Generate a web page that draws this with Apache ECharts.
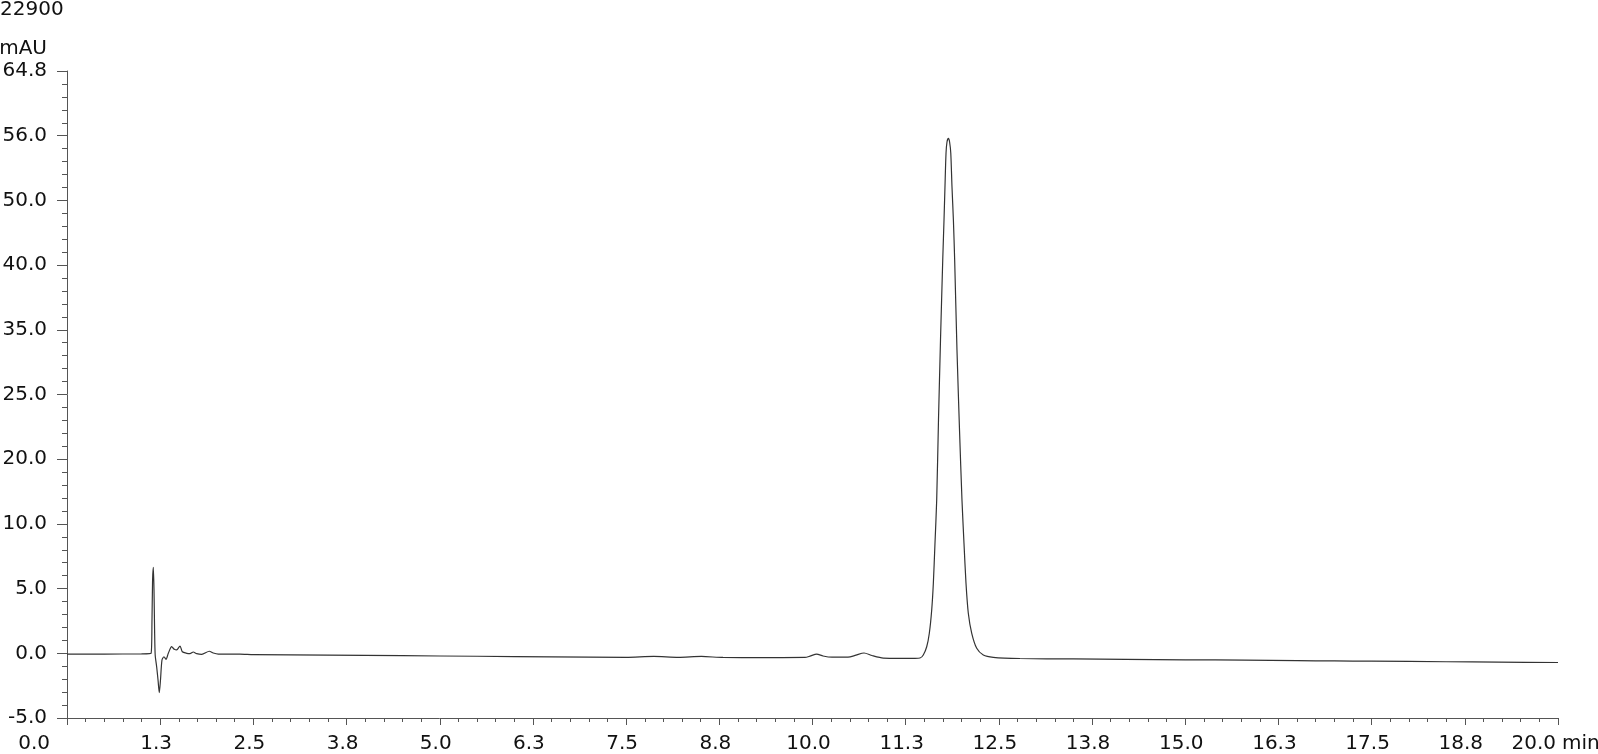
<!DOCTYPE html>
<html>
<head>
<meta charset="utf-8">
<script src="https://cdn.jsdelivr.net/npm/echarts@6/dist/echarts.min.js"></script>
<style>
html,body{margin:0;padding:0;background:#fff;}
#chart{width:1598px;height:754px;}
</style>
</head>
<body>
<div id="chart"></div>
<script>
const titleText = '22900';
const yUnit = 'mAU';
const xUnit = 'min';
const xLabels = ['0.0','1.3','2.5','3.8','5.0','6.3','7.5','8.8','10.0','11.3','12.5','13.8','15.0','16.3','17.5','18.8','20.0'];
const yLabels = ['-5.0','0.0','5.0','10.0','20.0','25.0','35.0','40.0','50.0','56.0','64.8'];

const timeMin = [
  0.00, 0.50, 1.00, 1.127, 1.140, 1.148, 1.158, 1.167, 1.175, 1.183, 1.203, 1.221, 1.238, 1.254,
  1.274, 1.301, 1.328, 1.359, 1.404, 1.439, 1.471, 1.516, 1.547, 1.606, 1.650, 1.694, 1.740,
  1.807, 1.909, 1.962, 2.030, 2.32, 2.50, 3.50, 4.50, 5.50, 6.50, 7.50, 7.87, 8.20, 8.51, 8.80,
  9.30, 9.899, 9.966, 10.056, 10.141, 10.262, 10.476, 10.583, 10.691, 10.798, 10.950, 11.174,
  11.375, 11.442, 11.486, 11.532, 11.567, 11.599, 11.621, 11.643, 11.666, 11.690, 11.717, 11.747,
  11.764, 11.777, 11.791, 11.804, 11.823, 11.839, 11.855, 11.871, 11.890, 11.907, 11.938, 11.972,
  12.005, 12.032, 12.059, 12.090, 12.136, 12.203, 12.291, 12.425, 12.783, 13.50, 14.20, 15.00,
  15.80, 16.50, 17.00, 17.50, 18.50, 19.20, 20.00
];
const signal = [
  1.90, 1.90, 1.92, 1.97, 5.57, 9.89, 11.26, 8.81, 4.49, 1.80, 0.50, -0.90, -2.27, -0.90,
  1.26, 1.61, 1.33, 1.98, 2.69, 2.41, 2.34, 2.77, 2.15, 1.98, 1.94, 2.12, 1.94,
  1.87, 2.20, 2.01, 1.90, 1.90, 1.84, 1.78, 1.72, 1.66, 1.60, 1.55, 1.65, 1.55, 1.64, 1.53,
  1.52, 1.53, 1.67, 1.90, 1.69, 1.56, 1.56, 1.78, 2.01, 1.74, 1.47, 1.44,
  1.44, 1.47, 1.80, 2.69, 4.14, 6.65, 9.53, 13.85, 18.52, 27.15, 35.78, 44.41,
  48.72, 52.32, 55.92, 57.14, 57.54, 57.14, 55.92, 52.32, 48.72, 44.41, 34.70, 26.07,
  18.52, 13.85, 9.53, 6.30, 4.14, 2.52, 1.80, 1.55, 1.42, 1.37, 1.33, 1.28,
  1.24, 1.18, 1.16, 1.13, 1.07, 1.03, 0.99
];

const fontFamily = '"DejaVu Sans", Verdana, sans-serif';
const labelStyle = {fontSize: 20, color: '#111', fontFamily: fontFamily};
const chart = echarts.init(document.getElementById('chart'));
chart.setOption({
  animation: false,
  backgroundColor: '#ffffff',
  title: {
    text: titleText,
    left: 0, top: 0, padding: 0,
    textStyle: {fontSize: 20, fontWeight: 'normal', color: '#111', fontFamily: fontFamily}
  },
  grid: {left: 67, right: 40, top: 71, bottom: 36, containLabel: false, outerBoundsMode: 'none'},
  xAxis: {
    type: 'value', min: 0, max: 20, interval: 1.25,
    name: xUnit, nameLocation: 'end', nameGap: 3,
    nameTextStyle: {fontSize: 20, color: '#111', fontFamily: fontFamily, align: 'left', verticalAlign: 'top', padding: [16, 0, 0, 0]},
    axisLine: {show: true, onZero: false, lineStyle: {color: '#555', width: 1}},
    axisTick: {show: true, length: 7, lineStyle: {color: '#555'}},
    minorTick: {show: true, splitNumber: 5, length: 4, lineStyle: {color: '#555'}},
    splitLine: {show: false},
    axisLabel: {
      fontSize: 20, color: '#111', fontFamily: fontFamily, margin: 16,
      alignMinLabel: 'right', alignMaxLabel: 'right',
      formatter: (v, i) => {
        const s = xLabels[i] !== undefined ? xLabels[i] : '';
        if (i === 0) return '{first|' + s + '}';
        if (i === xLabels.length - 1) return '{last|' + s + '}';
        return '{mid|' + s + '}';
      },
      rich: {
        first: Object.assign({padding: [0, 17, 0, 0]}, labelStyle),
        mid: Object.assign({padding: [0, 8, 0, 0]}, labelStyle),
        last: Object.assign({padding: [0, 2, 0, 0]}, labelStyle)
      }
    }
  },
  yAxis: {
    type: 'value', min: -5, max: 64.8, interval: 6.98,
    name: yUnit, nameLocation: 'end', nameGap: 22,
    nameTextStyle: {fontSize: 20, color: '#111', fontFamily: fontFamily, align: 'right', verticalAlign: 'middle', padding: [0, 20, 0, 0]},
    axisLine: {show: true, onZero: false, lineStyle: {color: '#555', width: 1}},
    axisTick: {show: true, length: 10, lineStyle: {color: '#555'}},
    minorTick: {show: true, splitNumber: 5, length: 5, lineStyle: {color: '#555'}},
    splitLine: {show: false},
    axisLabel: {
      fontSize: 20, color: '#111', fontFamily: fontFamily, margin: 20,
      formatter: (v, i) => yLabels[i] !== undefined ? yLabels[i] : ''
    }
  },
  series: [{
    type: 'line',
    data: timeMin.map((t, i) => [t, signal[i]]),
    showSymbol: false,
    smooth: 0.25,
    lineStyle: {color: '#333', width: 1.2},
    clip: true
  }]
});
</script>
</body>
</html>
